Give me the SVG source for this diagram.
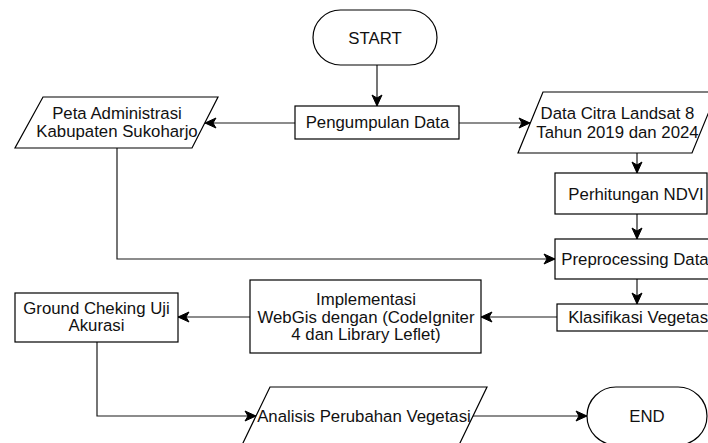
<svg xmlns="http://www.w3.org/2000/svg" width="708" height="443" viewBox="0 0 708 443">
  <style>
    .shape { fill: #ffffff; stroke: #000000; stroke-width: 1.2; }
    .edge { fill: none; stroke: #1a1a1a; stroke-width: 1.2; }
    text { font-family: "Liberation Sans", Arial, sans-serif; font-size: 16.8px; fill: #111111; text-anchor: middle; }
  </style>
  <defs>
    <marker id="arrow" markerUnits="userSpaceOnUse" markerWidth="13" markerHeight="13" viewBox="0 0 13 13" refX="12" refY="6.5" orient="auto">
      <path d="M1,1.5 L12,6.5 L1,11.5 L4,6.5 Z" fill="#000000" stroke="#000000" stroke-width="1"/>
    </marker>
  </defs>
  <rect width="708" height="443" fill="#ffffff"/>

  <g id="connectors">
    <path class="edge" d="M377,65 L377,106" marker-end="url(#arrow)"/>
    <path class="edge" d="M295,123 L205,123" marker-end="url(#arrow)"/>
    <path class="edge" d="M459,123 L530,123" marker-end="url(#arrow)"/>
    <path class="edge" d="M637,153 L637,173" marker-end="url(#arrow)"/>
    <path class="edge" d="M637,214 L637,239" marker-end="url(#arrow)"/>
    <path class="edge" d="M117,148 L117,259 L555,259" marker-end="url(#arrow)"/>
    <path class="edge" d="M637,279 L637,304" marker-end="url(#arrow)"/>
    <path class="edge" d="M557,317 L481,317" marker-end="url(#arrow)"/>
    <path class="edge" d="M250,317 L178,317" marker-end="url(#arrow)"/>
    <path class="edge" d="M97,342 L97,416 L256,416" marker-end="url(#arrow)"/>
    <path class="edge" d="M473,416 L587,416" marker-end="url(#arrow)"/>
  </g>

  <g id="start">
    <rect class="shape" x="313" y="10" width="124" height="55" rx="27.5" ry="27.5"/>
    <text x="375" y="43.5">START</text>
  </g>

  <g id="pengumpulan">
    <rect class="shape" x="295" y="106" width="164" height="33"/>
    <text x="377.5" y="128">Pengumpulan Data</text>
  </g>

  <g id="peta">
    <polygon class="shape" points="43,97 218,97 192,148 15,148"/>
    <text x="117" y="119">Peta Administrasi</text>
    <text x="117" y="137">Kabupaten Sukoharjo</text>
  </g>

  <g id="data-citra">
    <polygon class="shape" points="543,92 717,92 692,153 518,153"/>
    <text x="617.5" y="119">Data Citra Landsat 8</text>
    <text x="617.5" y="138">Tahun 2019 dan 2024</text>
  </g>

  <g id="perhitungan">
    <rect class="shape" x="555" y="173" width="152" height="41"/>
    <text x="636" y="199.5">Perhitungan NDVI</text>
  </g>

  <g id="preprocessing">
    <rect class="shape" x="555" y="239" width="165" height="40"/>
    <text x="635" y="265">Preprocessing Data</text>
  </g>

  <g id="klasifikasi">
    <rect class="shape" x="557" y="304" width="165" height="27"/>
    <text x="640" y="323">Klasifikasi Vegetasi</text>
  </g>

  <g id="implementasi">
    <rect class="shape" x="250" y="280" width="231" height="73"/>
    <text x="366" y="305">Implementasi</text>
    <text x="366" y="322.5">WebGis dengan (CodeIgniter</text>
    <text x="366" y="340">4 dan Library Leflet)</text>
  </g>

  <g id="ground">
    <rect class="shape" x="15" y="293" width="163" height="49"/>
    <text x="96.5" y="314">Ground Cheking Uji</text>
    <text x="96.5" y="331">Akurasi</text>
  </g>

  <g id="analisis">
    <polygon class="shape" points="270,387 487,387 459,445 242,445"/>
    <text x="364" y="422">Analisis Perubahan Vegetasi</text>
  </g>

  <g id="end">
    <rect class="shape" x="587" y="387" width="120" height="58" rx="29" ry="29"/>
    <text x="647" y="422">END</text>
  </g>
</svg>
